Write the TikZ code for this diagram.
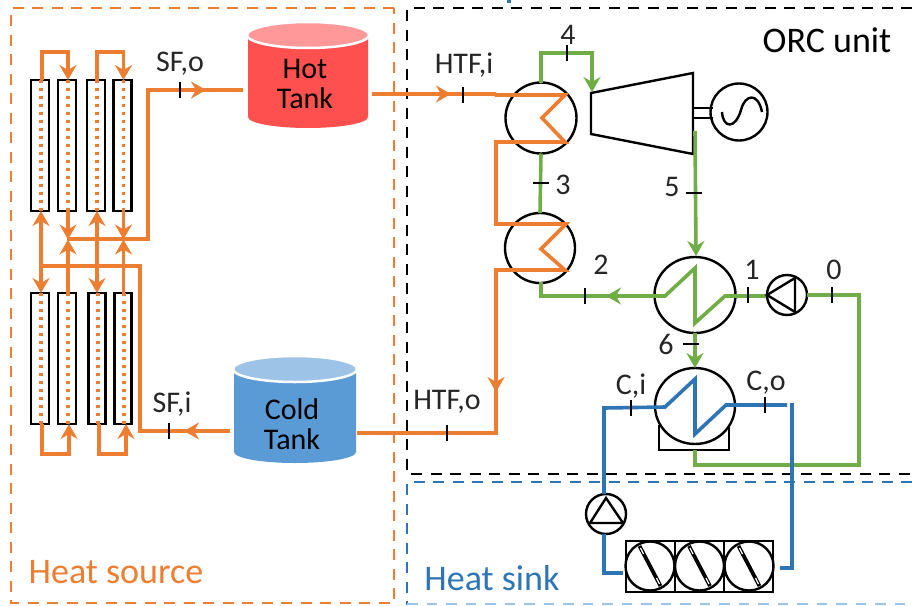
\documentclass[tikz,border=0pt]{standalone}
\usepackage{fontspec}
\setmainfont{Carlito}
\usetikzlibrary{arrows.meta,shapes.geometric,calc}
\definecolor{orF}{HTML}{ED7D31}
\definecolor{grF}{HTML}{70AD47}
\definecolor{blF}{HTML}{2E75B6}
\definecolor{lblF}{HTML}{9DC3E6}
\definecolor{txtF}{HTML}{262626}
\definecolor{hotb}{HTML}{FF5050}
\definecolor{hott}{HTML}{FF9999}
\definecolor{colb}{HTML}{5B9BD5}
\definecolor{colt}{HTML}{9DC3E6}
\tikzset{
 ofl/.style={draw=orF,line width=3.6pt,line join=miter},
 gfl/.style={draw=grF,line width=3.6pt,line join=miter},
 bfl/.style={draw=blF,line width=3.6pt,line join=miter},
 tipo/.style={-{Stealth[length=15pt,width=17pt,inset=5pt]}},
 tipb/.style={{Stealth[length=15pt,width=17pt,inset=5pt]}-{Stealth[length=15pt,width=17pt,inset=5pt]}},
 tick/.style={draw=black,line width=2.4pt},
 eq/.style={draw=black,line width=2.4pt},
 boxd/.style={line width=2.4pt,dash pattern=on 11pt off 8.5pt},
 coll/.style={draw=black,line width=2.4pt,minimum width=17pt,inner sep=0pt,outer sep=0pt},
 dots/.style={draw=orF,line width=3.2pt,dash pattern=on 3.2pt off 4.8pt},
 lab/.style={text=txtF,font=\fontsize{30}{32}\selectfont,inner sep=0pt},
 hx/.style={ellipse,draw=black,line width=2.4pt,inner sep=0pt,outer sep=0pt},
 tanklab/.style={text=black,font=\fontsize{30}{30}\selectfont,align=center,inner sep=0pt},
}
\begin{document}
\begin{tikzpicture}[x=1pt,y=-1pt]
\useasboundingbox (0,0) rectangle (912,605);
% frames
\fill[blF] (507,0) rectangle (511,2.5);
\draw[boxd,orF] (394,8) -- (11,8) -- (11,603) -- (394,603) -- cycle;
\draw[boxd,black] (912,8) -- (407,8) -- (407,474) -- (912,474);
\draw[boxd,blF] (912,482) -- (407,482) -- (407,605);
\draw[line width=1.5pt,lblF,dash pattern=on 10.5pt off 9pt] (407,604) -- (912,604);
\node[text=orF,font=\fontsize{36}{38}\selectfont,inner sep=0pt] (hs) at (116,572) {Heat source};
\node[text=blF,font=\fontsize{36}{38}\selectfont,inner sep=0pt] (hk) at (492,578) {Heat sink};
\node[text=black,font=\fontsize{36}{38}\selectfont,inner sep=0pt] (orc) at (827,40) {ORC unit};

% collectors
\foreach \n/\x/\w in {u1/40/18,u2/67/18,u3/96/18,u4/122.5/18}
  \node[coll,minimum width=\w pt,minimum height=131pt] (\n) at (\x,145.5) {};
\foreach \n/\x/\w in {l1/40/18,l2/67/18,l3/97/17,l4/123/17}
  \node[coll,minimum width=\w pt,minimum height=131pt] (\n) at (\x,358.5) {};
\foreach \n in {u1,u2,u3,u4,l1,l2,l3,l4}
  \draw[dots] ($(\n.north)+(1,0)$) -- ($(\n.south)+(1,0)$);
% top loops
\draw[ofl,tipo] ($(u1.north)+(2,0)$) -- ++(0,-28) -| ($(u2.north)+(1,0)$);
\draw[ofl,tipo] ($(u3.north)+(1,0)$) -- ++(0,-28) -| ($(u4.north)+(1,0)$);
% bottom loops
\draw[ofl,tipo] ($(l1.south)+(2,0)$) -- ++(0,30) -| ($(l2.south)+(2,0)$);
\draw[ofl,tipo] ($(l3.south)+(2,0)$) -- ++(0,30) -| ($(l4.south)+(3,0)$);
% headers
\coordinate (hdo) at (68,239.5);
\coordinate (hdi) at (39,266);
\draw[ofl,tipo] ($(u2.south)+(1,0)$) -- (hdo);
\draw[ofl,tipo] ($(u4.south)+(1,0)$) -- (123.5,239.5);
\draw[ofl,tipo] ($(l2.north)+(1,0)$) -- (hdo);
\draw[ofl,tipo] ($(l4.north)+(.5,0)$) -- (123.5,239.5);
\draw[ofl,tipb] ($(u1.south)+(1,0)$) -- ($(l1.north)+(1,0)$);
\draw[ofl,tipb] ($(u3.south)+(1,0)$) -- ($(l3.north)$);

% tanks
\fill[hotb] (248,35) -- (248,117) arc[start angle=180,end angle=0,x radius=60,y radius=11] -- (368,35) -- cycle;
\draw[white,line width=2.5pt,fill=hott] (308,35) ellipse[x radius=61,y radius=13];
\node[tanklab] (hot) at (305,84) {Hot\\Tank};
\fill[colb] (234,370) -- (234,452) arc[start angle=180,end angle=0,x radius=61,y radius=11] -- (356,370) -- cycle;
\draw[white,line width=2.5pt,fill=colt] (295,369) ellipse[x radius=62,y radius=13];
\node[tanklab] (cold) at (292,424) {Cold\\Tank};

% SF connectors
\coordinate (hotin) at (243,90);
\coordinate (hotout) at (372,94);
\coordinate (coldout) at (230,431);
\coordinate (coldin) at (357,433);
\draw[ofl] (67,239) -- (148,239) -- (148,90) -- (hotin);
\draw[ofl,tipo] (148,90) -- (206,90);
\draw[ofl] (coldout) -- (140,431) -- (140,266) -- (hdi);
\draw[ofl,tipo] (coldout) -- (184,431);

% heat exchangers
\node[hx,minimum width=71pt,minimum height=71pt] (he1) at (541,118) {};
\node[hx,minimum width=70pt,minimum height=70pt] (he2) at (540,248) {};
\node[hx,minimum width=81pt,minimum height=76pt] (rec) at (695,295) {};
\draw[eq] (659,425) -- (659,450) -- (729,450) -- (729,425);
\node[hx,fill=white,minimum width=80pt,minimum height=76pt] (con) at (695,406) {};

% HTF
\draw[ofl,tipo] (hotout) -- (451,94);
\draw[ofl] (hotout) -- (495,94) -- (496,95) -- (565,95) -- (542,118) -- (565,142) -- (496,142) -- (496,224) -- (566,224) -- (541,249) -- (565,270) -- (496,270) -- (496,433) -- (coldin);
\draw[ofl,tipo] (496,300) -- (496,392);

% turbine and generator
\node[hx,minimum width=57pt,minimum height=57pt] (gen) at (739,112) {};
\draw[eq] (693,108) -- (713,108) (693,118) -- (713,118);
\draw[eq] (722,112) .. controls (723,128) and (735,130) .. (741,110) .. controls (745,94) and (758,92) .. (762,112);
\coordinate (tin) at (592,92);
\draw[eq,fill=white,line join=miter] (591,93) -- (693,73) -- (693,154) -- (591,134) -- cycle;

% green
\draw[gfl,tipo] (he1.north) -- (541,53) -- (592,53) -- (tin);
\draw[gfl] (he1.south) -- (he2.north);
\draw[gfl,tipo] (695,131) -- (696,256);
\draw[gfl] (541,282) -- (541,296) -- (665,296) -- (695,268) -- (695,323) -- (725,296) -- (767,296);
\draw[gfl,tipo] (641,296) -- (606,296);
\draw[gfl,tipo] (rec.south) -- (con.north);
\node[hx,minimum width=40pt,minimum height=40pt] (p1) at (787,295) {};
\draw[eq,line join=miter] (p1.west) -- (795,278) -- (795,312) -- cycle;
\draw[gfl] (p1.east) -- (859,295) -- (859,465) -- (695,465) -- (695,450);

% blue
\node[hx,minimum width=40pt,minimum height=40pt] (p2) at (606,514) {};
\draw[eq,line join=miter] (606,498) -- (590,523) -- (623,523) -- cycle;
\coordinate (fanl) at (623,573);
\coordinate (fanr) at (780,568);
\draw[bfl] (604,494) -- (604,408) -- (665,407) -- (695,379) -- (695,434) -- (726,405) -- (787,405);
\draw[bfl] (792,403) -- (792,568) -- (fanr);
\draw[bfl] (604,534) -- (604,573) -- (fanl);

% fans
\node[draw=black,line width=2.4pt,minimum width=147pt,minimum height=51pt,inner sep=0pt] (fans) at (699.5,566.5) {};
\draw[eq] (675,541) -- (675,592) (724,541) -- (724,592);
\foreach \n/\x in {f1/650,f2/699.5,f3/749}{
  \node[hx,minimum width=49pt,minimum height=49pt] (\n) at (\x,566) {};
  \draw[black,line width=3.8pt] (\x-10.5,566-20) -- (\x+10.5,566+20);
  \draw[white,line width=1.3pt] (\x-9.5,566-18) -- (\x-6.5,566-12);
  \draw[white,line width=1.3pt] (\x+9.5,566+18) -- (\x+6.5,566+12);
}

% ticks
\foreach \x/\y in {180/90,169/431,463/95,447/433,567/53,585/296,748/295,832/295,631/408,765/405}
  \draw[tick] (\x,\y-8) -- (\x,\y+8);
\foreach \x/\y in {541/183,694/193,691/344}
  \draw[tick] (\x-8,\y) -- (\x+8,\y);

% labels
\node[lab] (tsfo) at (180,64) {SF,o};
\node[lab] (tsfi) at (172,404) {SF,i};
\node[lab] (thi) at (464,65) {HTF,i};
\node[lab] (tho) at (447,402) {HTF,o};
\node[lab] (t4) at (568,35) {4};
\node[lab] (t3) at (563,185) {3};
\node[lab] (t2) at (601,265) {2};
\node[lab] (t5) at (672,187) {5};
\node[lab] (t1) at (752,270) {1};
\node[lab] (t0) at (834,270) {0};
\node[lab] (t6) at (666,344) {6};
\node[lab] (tci) at (631,386) {C,i};
\node[lab] (tco) at (766,383) {C,o};
\end{tikzpicture}
\end{document}
